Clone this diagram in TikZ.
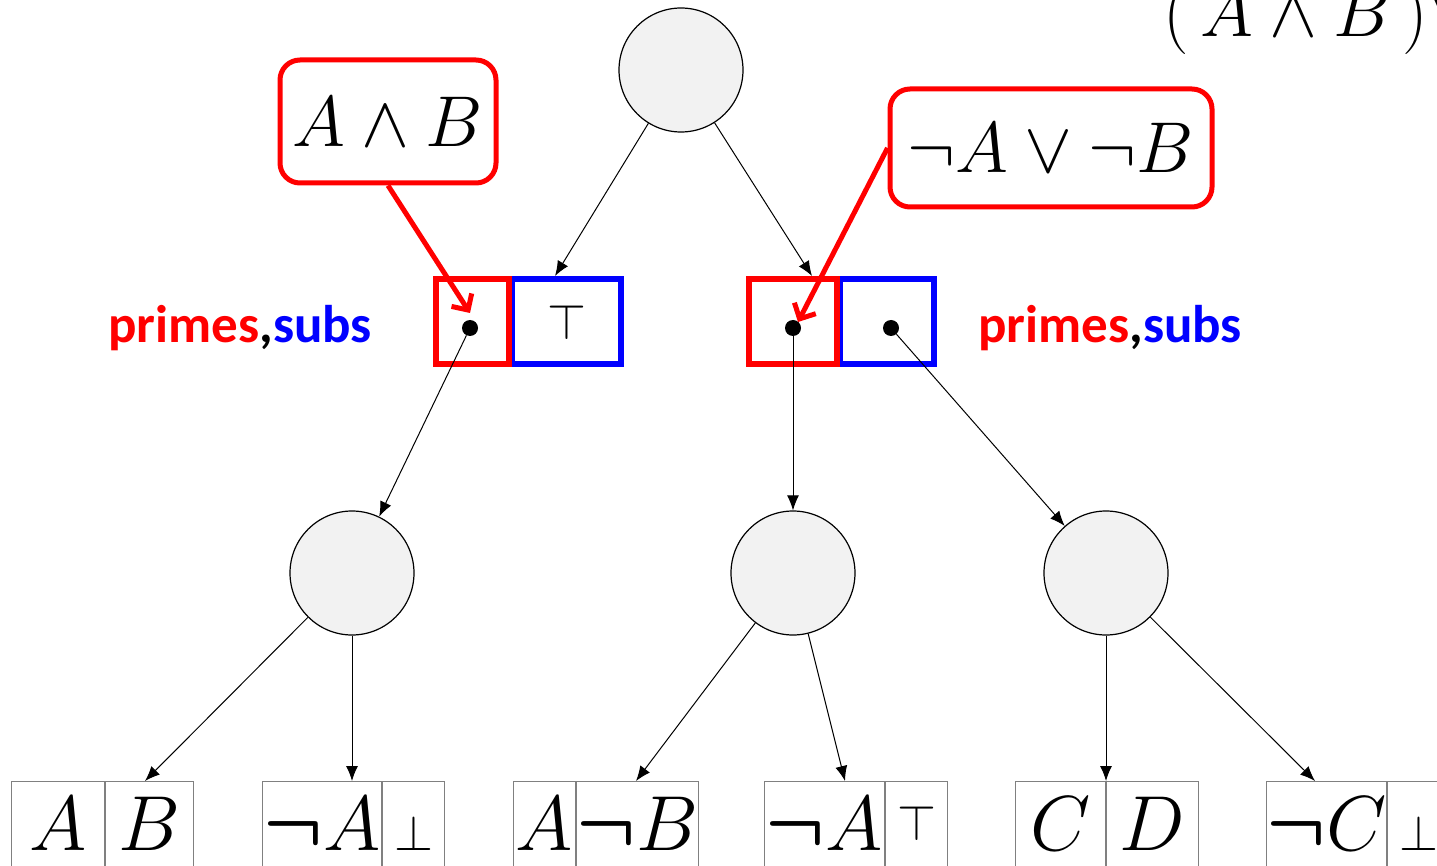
\RequirePackage{fix-cm}
\documentclass[tikz,border=0pt]{standalone}
\usepackage{fontspec}
\usepackage{bm}
\usetikzlibrary{arrows.meta}

\newfontfamily\labelfont{Carlito}
\definecolor{vtreefill}{HTML}{F2F2F2}
\definecolor{leafgray}{HTML}{808080}
\newcommand\leafsize{\fontsize{78}{80}\selectfont}
\newcommand\notesize{\fontsize{72}{74}\selectfont}
\newcommand\constsize{\fontsize{50}{52}\selectfont}

\tikzset{
    vtree/.style={circle, draw, line width=1.2pt, fill=vtreefill, minimum size=124pt, inner sep=0pt},
    prime/.style={draw=red, line width=6pt, minimum height=85pt, inner sep=0pt},
    sub/.style={draw=blue, line width=6pt, minimum height=85pt, inner sep=0pt, anchor=west},
    ptr/.style={circle, fill=black, minimum size=16pt, inner sep=0pt},
    leaf/.style={draw=leafgray, line width=1pt, inner sep=0pt, text height=69pt, text depth=40pt, anchor=north west, font=\leafsize},
    note/.style={draw=red, line width=5pt, rounded corners=20pt, fill=white, inner sep=0pt, font=\notesize},
    tag/.style={font=\labelfont\bfseries\fontsize{53}{55}\selectfont, anchor=base west, inner sep=0pt},
    link/.style={-{Latex[length=15pt,width=12pt]}, line width=1pt},
    hint/.style={-{Straight Barb[length=12pt,width=24pt]}, draw=red, line width=5pt}
}

\begin{document}
\begin{tikzpicture}[x=1pt,y=-1pt]
    \useasboundingbox (0,0) rectangle (1437,866);

    \node[vtree] at (681,70) (root) {};
    \node[vtree] at (352,573) (cl) {};
    \node[vtree] at (793,573) (cm) {};
    \node[vtree] at (1106,573) (cr) {};

    \node[sub, minimum width=109pt] at (509,321.5) (lsub) {};
    \node[prime, minimum width=73pt] at (472.5,321.5) (lprime) {};
    \node[anchor=base, font=\constsize, inner sep=0pt] at (567,340) (ltop) {$\top$};
    \node[sub, minimum width=94pt] at (837,321.5) (rsub) {};
    \node[prime, minimum width=88pt] at (793,321.5) (rprime) {};

    \node[ptr] at (470,328) (ldot) {};
    \node[ptr] at (793,328) (rpdot) {};
    \node[ptr] at (891,328) (rsdot) {};

    \node[tag] at (108,342) (ltag) {{\color{red}primes},{\color{blue}subs}};
    \node[tag] at (978,342) (rtag) {{\color{red}primes},{\color{blue}subs}};

    \node[leaf, minimum width=93pt] at (11,781) (l1a) {$A$};
    \node[leaf, minimum width=88pt] at (l1a.north east) (l1b) {$B$};
    \node[leaf, minimum width=119pt] at (262,781) (l2a) {$\bm{\neg} A$};
    \node[leaf, minimum width=62pt, font=\constsize] at (l2a.north east) (l2b) {$\bot$};
    \node[leaf, minimum width=62pt] at (513,781) (l3a) {$A$};
    \node[leaf, minimum width=119pt] at (l3a.north east) (l3b) {$\bm{\neg} B$};
    \node[leaf, minimum width=120pt] at (764,781) (l4a) {$\bm{\neg} A$};
    \node[leaf, minimum width=62pt, font=\constsize] at (l4a.north east) (l4b) {\raisebox{10pt}{$\top$}};
    \node[leaf, minimum width=90pt] at (1015,781) (l5a) {$C$};
    \node[leaf, minimum width=92pt] at (l5a.north east) (l5b) {$D$};
    \node[leaf, minimum width=116pt] at (1266,781) (l6a) {$\bm{\neg} C$};
    \node[leaf, minimum width=62pt, font=\constsize] at (l6a.north east) (l6b) {$\bot$};

    \node[anchor=base west, font=\notesize, inner sep=0pt] at (1163,37) (goal) {$(\,A\wedge B\,)\vee$};

    \coordinate (lsubin) at (555,276);
    \coordinate (rprimein) at (812,276);
    \coordinate (l1in) at (145,781);
    \coordinate (l2in) at (352,781);
    \coordinate (l3in) at (636,781);
    \coordinate (l4in) at (845,781);
    \coordinate (l5in) at (1106,781);
    \coordinate (l6in) at (1315,781);

    \draw[link] (root) to (lsubin);
    \draw[link] (root) to (rprimein);
    \draw[link] (ldot) to (cl);
    \draw[link] (rpdot) to (cm);
    \draw[link] (rsdot) to (cr);
    \draw[link] (cl) to (l1in);
    \draw[link] (cl) to (l2in);
    \draw[link] (cm) to (l3in);
    \draw[link] (cm) to (l4in);
    \draw[link] (cr) to (l5in);
    \draw[link] (cr) to (l6in);

    \node[note, minimum width=216pt, minimum height=123pt] at (388,121.5) (lnote) {$A\wedge B$};
    \node[note, minimum width=322pt, minimum height=118pt] at (1051,148) (rnote) {$\neg A\vee\neg B$};

    \coordinate (ltip) at (470,313);
    \coordinate (rtip) at (798,322);
    \draw[hint] (lnote.south) to (ltip);
    \draw[hint] (rnote.west) to (rtip);
\end{tikzpicture}
\end{document}
